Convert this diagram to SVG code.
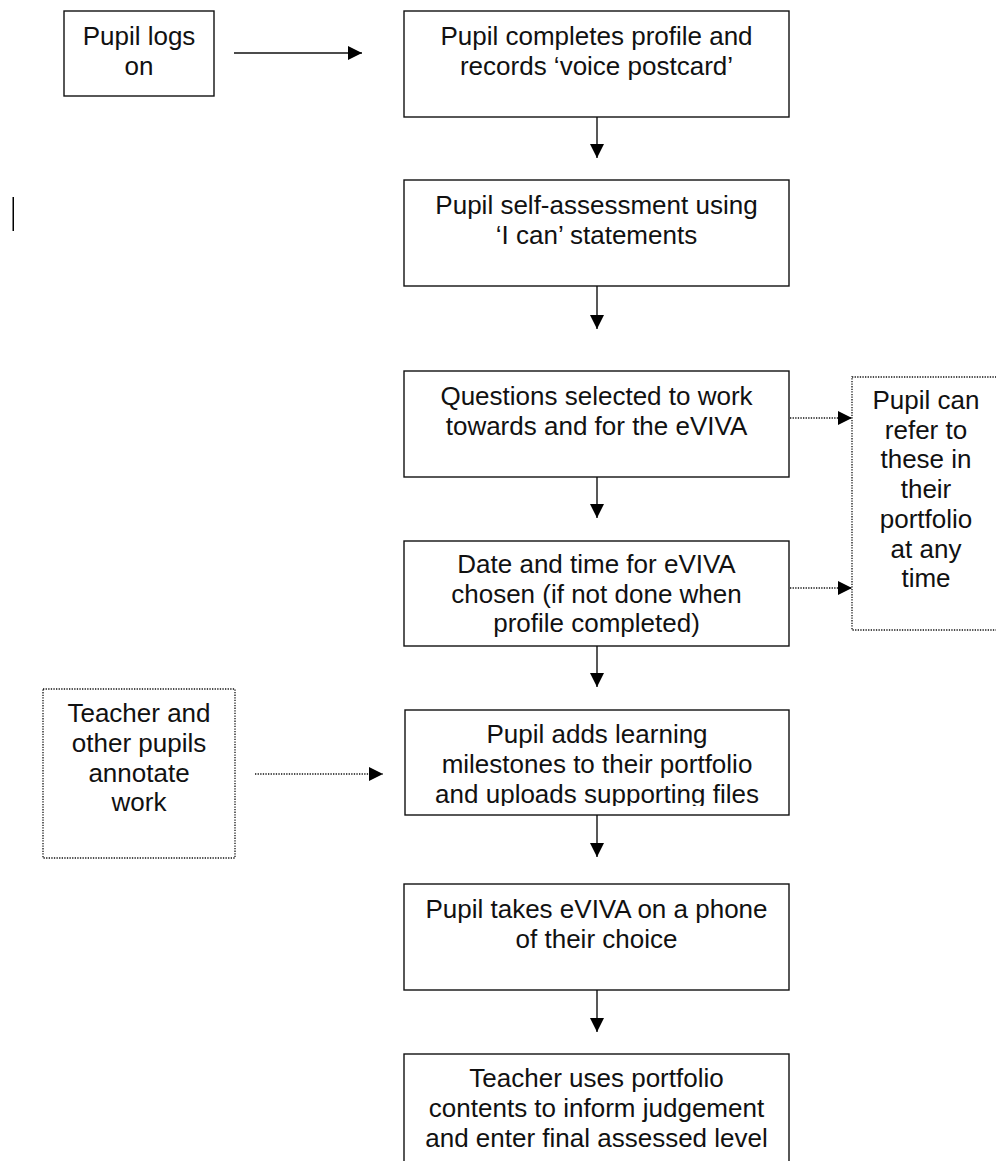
<svg xmlns="http://www.w3.org/2000/svg" width="996" height="1161" viewBox="0 0 996 1161">
<style>
.box{fill:#fff;stroke:#111;stroke-width:1.4}
.dbox{fill:#fff;stroke:#111;stroke-width:1.3;stroke-dasharray:1.3 1.3}
.t{font-family:"Liberation Sans",Arial,sans-serif;font-size:26px;fill:#111;text-anchor:middle}
.c{fill:none;stroke:#111;stroke-width:1.4}
.dc{fill:none;stroke:#111;stroke-width:1.3;stroke-dasharray:1.3 1.3}
</style>
<defs>
<marker id="ah" markerUnits="userSpaceOnUse" markerWidth="14" markerHeight="14" refX="14" refY="7" orient="auto">
<path d="M0,0 L14,7 L0,14 z" fill="#000"/>
</marker>
<clipPath id="clipAdds"><rect x="405" y="710" width="384" height="96"/></clipPath>
</defs>
<rect x="12.5" y="197" width="1.5" height="34" fill="#000"/>
<g id="n1"><rect class="box" x="64" y="11" width="150" height="85"/>
<text class="t" x="139" y="45">Pupil logs</text><text class="t" x="139" y="75">on</text></g>
<g id="n2"><rect class="box" x="404" y="11" width="385" height="106"/>
<text class="t" x="596.5" y="45">Pupil completes profile and</text><text class="t" x="596.5" y="75">records ‘voice postcard’</text></g>
<g id="n3"><rect class="box" x="404" y="180" width="385" height="106"/>
<text class="t" x="596.5" y="214">Pupil self-assessment using</text><text class="t" x="596.5" y="244">‘I can’ statements</text></g>
<g id="n4"><rect class="box" x="404" y="371" width="385" height="106"/>
<text class="t" x="596.5" y="405">Questions selected to work</text><text class="t" x="596.5" y="435">towards and for the eVIVA</text></g>
<g id="n5"><rect class="box" x="404" y="541" width="385" height="105"/>
<text class="t" x="596.5" y="573">Date and time for eVIVA</text><text class="t" x="596.5" y="602.5">chosen (if not done when</text><text class="t" x="596.5" y="632">profile completed)</text></g>
<g id="n6"><rect class="dbox" x="852" y="377" width="150" height="253"/>
<text class="t" x="926" y="409">Pupil can</text><text class="t" x="926" y="439">refer to</text><text class="t" x="926" y="468">these in</text><text class="t" x="926" y="498">their</text><text class="t" x="926" y="528">portfolio</text><text class="t" x="926" y="558">at any</text><text class="t" x="926" y="587">time</text></g>
<g id="n7"><rect class="dbox" x="43" y="689" width="192" height="169"/>
<text class="t" x="139" y="722">Teacher and</text><text class="t" x="139" y="752">other pupils</text><text class="t" x="139" y="782">annotate</text><text class="t" x="139" y="811">work</text></g>
<g id="n8"><rect class="box" x="405" y="710" width="384" height="105"/>
<g clip-path="url(#clipAdds)"><text class="t" x="597" y="743">Pupil adds learning</text><text class="t" x="597" y="773">milestones to their portfolio</text><text class="t" x="597" y="803">and uploads supporting files</text></g></g>
<g id="n9"><rect class="box" x="404" y="884" width="385" height="106"/>
<text class="t" x="596.5" y="918">Pupil takes eVIVA on a phone</text><text class="t" x="596.5" y="948">of their choice</text></g>
<g id="n10"><rect class="box" x="404" y="1054" width="385" height="130"/>
<text class="t" x="596.5" y="1087">Teacher uses portfolio</text><text class="t" x="596.5" y="1117">contents to inform judgement</text><text class="t" x="596.5" y="1147">and enter final assessed level</text></g>
<g id="connectors">
<line class="c" x1="234" y1="53" x2="362" y2="53" marker-end="url(#ah)"/>
<line class="c" x1="597" y1="117" x2="597" y2="158" marker-end="url(#ah)"/>
<line class="c" x1="597" y1="286" x2="597" y2="329" marker-end="url(#ah)"/>
<line class="c" x1="597" y1="477" x2="597" y2="518" marker-end="url(#ah)"/>
<line class="c" x1="597" y1="646" x2="597" y2="687" marker-end="url(#ah)"/>
<line class="c" x1="597" y1="815" x2="597" y2="857" marker-end="url(#ah)"/>
<line class="c" x1="597" y1="990" x2="597" y2="1032" marker-end="url(#ah)"/>
<line class="dc" x1="790" y1="418" x2="852" y2="418" marker-end="url(#ah)"/>
<line class="dc" x1="790" y1="588" x2="852" y2="588" marker-end="url(#ah)"/>
<line class="dc" x1="255" y1="774" x2="383" y2="774" marker-end="url(#ah)"/>
</g>
</svg>
